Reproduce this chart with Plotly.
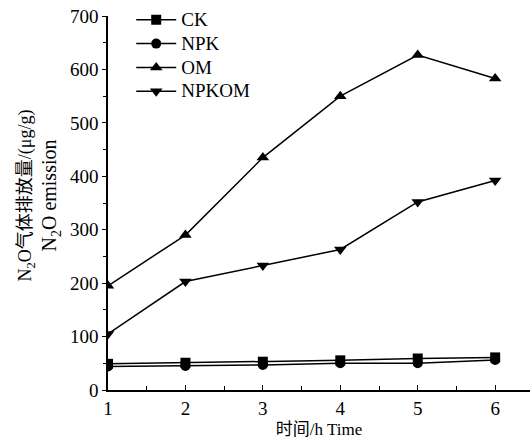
import plotly.graph_objects as go

time_h = [1, 2, 3, 4, 5, 6]
ck = [49, 51, 53, 55.5, 59, 61]
npk = [44, 45, 47, 50, 50, 56]
om = [195, 290, 435, 550, 627, 583]
npkom = [105, 203, 233, 263, 352, 392]
series_names = ["CK", "NPK", "OM", "NPKOM"]
y_ticks = [0, 100, 200, 300, 400, 500, 600, 700]
x_ticks = [1, 2, 3, 4, 5, 6]

serif = "Liberation Serif, Times New Roman, serif"
cjk = "Liberation Serif, Noto Sans CJK SC, serif"

fig = go.Figure()
symbols = ["square", "circle", "triangle-up", "triangle-down"]
for name, vals, sym in zip(series_names, [ck, npk, om, npkom], symbols):
    fig.add_trace(go.Scatter(
        x=time_h, y=vals, name='<span style="font-size:19px">' + name + '</span>',
        mode="lines+markers",
        line=dict(color="black", width=1.5),
        marker=dict(symbol=sym, size=11 if "triangle" in sym else 10, color="black"),
    ))

fig.update_layout(
    width=532, height=441,
    margin=dict(l=108, r=2, t=16, b=51),
    paper_bgcolor="white", plot_bgcolor="white",
    font=dict(family=serif, size=19, color="black"),
    showlegend=True,
    legend=dict(x=0.055, y=1.035, xanchor="left", yanchor="top",
                bgcolor="rgba(0,0,0,0)", font=dict(size=16, family=serif),
                itemwidth=40, tracegroupgap=0),
    xaxis=dict(range=[1, 6.45], tickvals=x_ticks, ticks="inside", ticklen=5,
               minor=dict(tickvals=[1.5, 2.5, 3.5, 4.5, 5.5], ticks="inside", ticklen=4, tickcolor="black"),
               showline=True, linecolor="black", linewidth=1.5, tickcolor="black",
               showgrid=False, zeroline=False,
               title=dict(text="时间/h Time", font=dict(family=cjk, size=17), standoff=6)),
    yaxis=dict(range=[0, 700], tickvals=y_ticks, ticks="outside", ticklen=4,
               minor=dict(tickvals=[50, 150, 250, 350, 450, 550, 650], ticks="outside", ticklen=3, tickcolor="black"),
               showline=True, linecolor="black", linewidth=1.5, tickcolor="black",
               showgrid=False, zeroline=False),
)

fig.add_annotation(text="N<sub>2</sub>O气体排放量/(μg/g)", textangle=-90,
                   xref="paper", yref="paper", x=0, y=0.52, xanchor="center", yanchor="middle",
                   xshift=-108 + 27, showarrow=False, font=dict(family=cjk, size=18))
fig.add_annotation(text="N<sub>2</sub>O emission", textangle=-90,
                   xref="paper", yref="paper", x=0, y=0.52, xanchor="center", yanchor="middle",
                   xshift=-108 + 51, showarrow=False, font=dict(family=cjk, size=20))

fig.write_html("out.html", post_script="document.body.style.margin='0';",
               config={"displayModeBar": False})
